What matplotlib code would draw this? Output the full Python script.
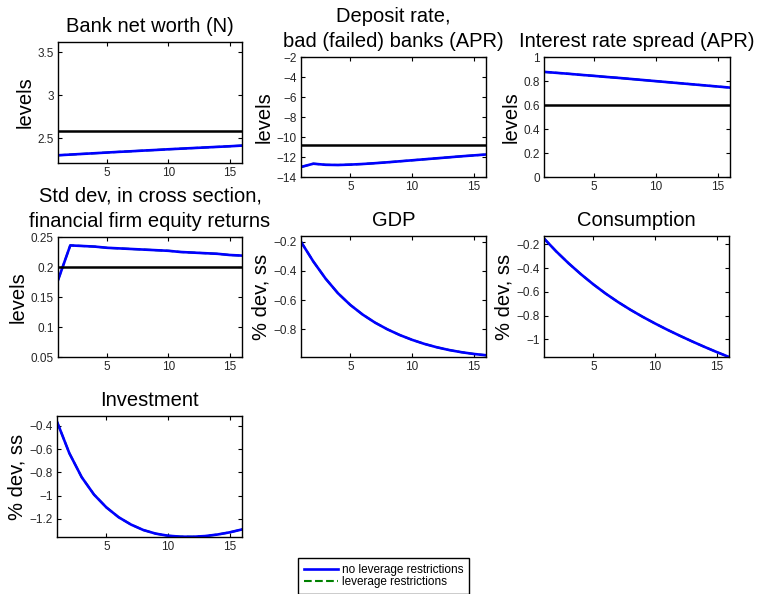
import numpy as np
import matplotlib
matplotlib.use("Agg")
import matplotlib.pyplot as plt

plt.rcParams['font.family'] = ['Liberation Sans', 'DejaVu Sans']

periods = np.arange(1, 17)

# impulse responses, no leverage restrictions
net_worth = [2.300, 2.308, 2.316, 2.324, 2.332, 2.340, 2.347, 2.355,
             2.362, 2.370, 2.377, 2.384, 2.391, 2.398, 2.405, 2.413]
deposit_rate = [-13.00, -12.67, -12.78, -12.80, -12.76, -12.70, -12.62, -12.53,
                -12.43, -12.33, -12.23, -12.13, -12.03, -11.93, -11.84, -11.75]
spread = [0.876, 0.868, 0.860, 0.851, 0.843, 0.834, 0.826, 0.817,
          0.808, 0.799, 0.790, 0.781, 0.772, 0.763, 0.754, 0.745]
equity_sd = [0.178, 0.236, 0.235, 0.234, 0.232, 0.231, 0.230, 0.229,
             0.228, 0.227, 0.225, 0.224, 0.223, 0.222, 0.220, 0.219]
gdp = [-0.200, -0.335, -0.453, -0.553, -0.633, -0.699, -0.754, -0.800,
       -0.839, -0.872, -0.900, -0.923, -0.942, -0.957, -0.969, -0.978]
consumption = [-0.150, -0.260, -0.360, -0.452, -0.537, -0.615, -0.686, -0.751,
               -0.811, -0.867, -0.920, -0.970, -1.018, -1.064, -1.108, -1.150]
investment = [-0.363, -0.634, -0.840, -0.990, -1.100, -1.185, -1.248, -1.295,
              -1.326, -1.344, -1.352, -1.353, -1.347, -1.334, -1.315, -1.290]

# steady state levels
ss_net_worth = 2.588
ss_deposit_rate = -10.75
ss_spread = 0.6
ss_equity_sd = 0.2

titles = ['Bank net worth (N)', 'Deposit rate,\nbad (failed) banks (APR)',
          'Interest rate spread (APR)',
          'Std dev, in cross section,\nfinancial firm equity returns',
          'GDP', 'Consumption', 'Investment']
ylabels = ['levels', 'levels', 'levels', 'levels', '% dev, ss', '% dev, ss', '% dev, ss']
series = [net_worth, deposit_rate, spread, equity_sd, gdp, consumption, investment]
steady = [ss_net_worth, ss_deposit_rate, ss_spread, ss_equity_sd, None, None, None]
ylims = [(2.21, 3.62), (-14, -2), (0, 1), (0.05, 0.25),
         (-0.99, -0.16), (-1.15, -0.129), (-1.355, -0.314)]
yticks = [[2.5, 3, 3.5], np.arange(-14, -1, 2), np.arange(0, 1.01, 0.2),
          [0.05, 0.1, 0.15, 0.2, 0.25], [-0.8, -0.6, -0.4, -0.2],
          [-1, -0.8, -0.6, -0.4, -0.2], [-1.2, -1, -0.8, -0.6, -0.4]]

W, H = 760, 594
# pixel boxes: left, top, right, bottom
boxes = [(58, 42, 242, 163), (301, 57, 486, 177), (544, 57, 730, 177),
         (58, 237, 242, 357), (301, 236, 486, 357), (544, 236, 729, 357),
         (57, 416, 242, 537)]

def fmt(v):
    s = ('%g' % v)
    return s.replace('-', '\u2212')

fig = plt.figure(figsize=(W / 100, H / 100), dpi=100)
for i in range(7):
    l, t, r, b = boxes[i]
    ax = fig.add_axes([l / W, 1 - b / H, (r - l) / W, (b - t) / H])
    lg, = ax.plot(periods, series[i], color='green', ls='--', lw=1.5)
    lb, = ax.plot(periods, series[i], color='blue', lw=1.9)
    if steady[i] is not None:
        ax.axhline(steady[i], color='black', lw=1.8)
    ax.set_xlim(1, 16)
    ax.set_ylim(*ylims[i])
    ax.set_xticks([5, 10, 15])
    ax.set_yticks(yticks[i])
    ax.set_yticklabels([fmt(round(v, 2)) for v in yticks[i]])
    ax.tick_params(direction='in', top=True, right=True, length=3, width=0.8,
                   labelsize=8.5, pad=3, labelcolor='#262626')
    for sp in ax.spines.values():
        sp.set_linewidth(1.0)
    ax.set_title(titles[i], fontsize=14.5, pad=7, linespacing=1.45)
    ax.set_ylabel(ylabels[i], fontsize=14.5, labelpad=2)

fig.legend([lb, lg], ['no leverage restrictions', 'leverage restrictions'],
           loc='upper left', bbox_to_anchor=(298 / W, 1 - 558 / H),
           fontsize=8.5, frameon=True, fancybox=False, edgecolor='black',
           framealpha=1, borderaxespad=0, labelspacing=0.0, handlelength=2.9,
           handletextpad=0.3, borderpad=0.5)

fig.savefig('out.png', dpi=100)
